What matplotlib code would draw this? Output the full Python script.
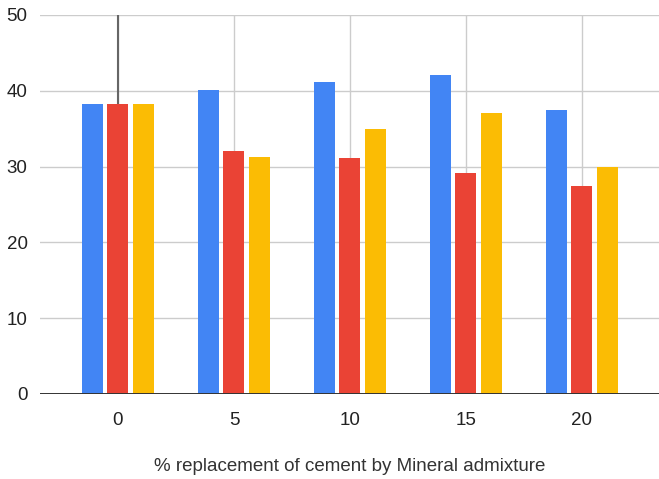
import matplotlib
matplotlib.use("Agg")
import matplotlib.pyplot as plt
import numpy as np

plt.rcParams['font.family'] = ['Liberation Sans', 'DejaVu Sans']

categories = ['0', '5', '10', '15', '20']
blue_vals = [38.2, 40.1, 41.1, 42.1, 37.5]
red_vals = [38.2, 32.1, 31.1, 29.1, 27.4]
yellow_vals = [38.2, 31.3, 35.0, 37.1, 29.9]
red_err_up = [15, 0, 0, 0, 0]

colors = ['#4285F4', '#EA4335', '#FBBC04']

fig = plt.figure(figsize=(6.59, 4.79), dpi=100)
ax = fig.add_axes([0.0607, 0.1775, 0.9393, 0.7912])

x = np.arange(len(categories))
w = 0.181
step = 0.216
for k, (vals, c) in enumerate(zip([blue_vals, red_vals, yellow_vals], colors)):
    ax.bar(x + (k - 1) * step, vals, width=w, color=c, zorder=3)

# error bar on the red series
for i, e in enumerate(red_err_up):
    if e > 0:
        ax.vlines(x[i], red_vals[i], red_vals[i] + e, color='#666666', lw=1.5, zorder=4)

ax.set_xlim(-0.672, 4.664)
ax.set_ylim(0, 50)
ax.set_yticks([0, 10, 20, 30, 40, 50])
ax.set_xticks(x)
ax.set_xticklabels(categories)
ax.grid(True, color='#cccccc', lw=1, zorder=0)
ax.axhline(0, color='#333333', lw=1.4, zorder=5)
for s in ax.spines.values():
    s.set_visible(False)
ax.tick_params(length=0, labelsize=13.5, colors='#222222')
ax.tick_params(axis='x', pad=13)
ax.tick_params(axis='y', pad=9)
ax.set_xlabel('% replacement of cement by Mineral admixture', fontsize=13.5,
              color='#333333', labelpad=21)

fig.savefig('out.png', dpi=100)
